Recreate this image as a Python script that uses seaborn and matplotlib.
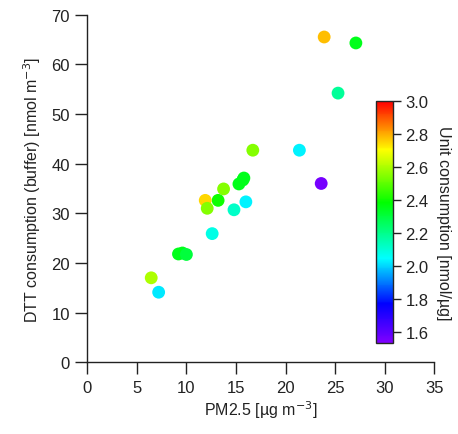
import numpy as np
import pandas as pd
import matplotlib
matplotlib.use("Agg")
import matplotlib.pyplot as plt
import seaborn as sns
from matplotlib.colors import LinearSegmentedColormap, Normalize

# values
pm25 = [23.9, 27.1, 25.3, 16.7, 21.4, 23.6, 15.8, 15.7, 15.3, 13.75, 13.2,
        11.9, 12.1, 14.8, 16.0, 12.6, 9.2, 9.6, 10.0, 6.45, 7.2]
dtt = [65.5, 64.3, 54.2, 42.7, 42.7, 36.0, 37.1, 36.7, 35.9, 34.9, 32.6,
       32.6, 31.0, 30.7, 32.3, 25.9, 21.8, 22.0, 21.7, 17.0, 14.1]
unit = [2.78, 2.35, 2.18, 2.55, 2.03, 1.55, 2.35, 2.35, 2.35, 2.55, 2.4,
        2.75, 2.55, 2.12, 2.03, 2.08, 2.35, 2.35, 2.3, 2.6, 2.02]

df = pd.DataFrame({"pm25": pm25, "dtt": dtt, "unit": unit})

sns.set_style("ticks")
plt.rcParams["font.family"] = ["Liberation Sans", "DejaVu Sans"]
plt.rcParams["axes.linewidth"] = 1.0

# Igor-like reversed rainbow
cmap = LinearSegmentedColormap.from_list(
    "igor_rainbow",
    [(0.0, (0.5, 0.0, 1.0)), (0.16, (0.0, 0.0, 1.0)), (0.35, (0.0, 1.0, 1.0)),
     (0.58, (0.0, 1.0, 0.0)), (0.8, (1.0, 1.0, 0.0)), (1.0, (1.0, 0.0, 0.0))])
norm = Normalize(vmin=1.53, vmax=3.0)

fig = plt.figure(figsize=(4.58, 4.35), dpi=100)
ax = fig.add_axes([0.1906, 0.165, 0.7574, 0.799])

sns.scatterplot(data=df, x="pm25", y="dtt", hue="unit", palette=cmap,
                hue_norm=norm, s=85, edgecolor="none", legend=False, ax=ax)

ax.set_xlim(0, 35)
ax.set_ylim(0, 70)
ax.set_xticks(range(0, 36, 5))
ax.set_yticks(range(0, 71, 10))
ax.tick_params(direction="out", length=8.5, width=1.0, labelsize=12,
               pad=4, colors="#222222", labelcolor="#222222")
sns.despine(ax=ax)
ax.spines["left"].set_color("#222222")
ax.spines["bottom"].set_color("#222222")
ax.set_xlabel("PM2.5 [µg m$^{-3}$]", fontsize=11.5, color="#222222",
              labelpad=3)
ax.set_ylabel("DTT consumption (buffer) [nmol m$^{-3}$]", fontsize=11.5,
              color="#222222", labelpad=6)

cax = fig.add_axes([0.821, 0.209, 0.037, 0.556])
sm = plt.cm.ScalarMappable(norm=norm, cmap=cmap)
cb = fig.colorbar(sm, cax=cax)
cb.set_ticks([1.6, 1.8, 2.0, 2.2, 2.4, 2.6, 2.8, 3.0])
cb.ax.tick_params(direction="out", length=6, width=1.0, labelsize=12,
                  pad=3, colors="#222222", labelcolor="#222222")
cb.outline.set_linewidth(1.0)
cb.set_label("Unit consumption [nmol/µg]", rotation=270, fontsize=11.5,
             color="#222222", labelpad=16)

fig.savefig("out.png", dpi=100)
